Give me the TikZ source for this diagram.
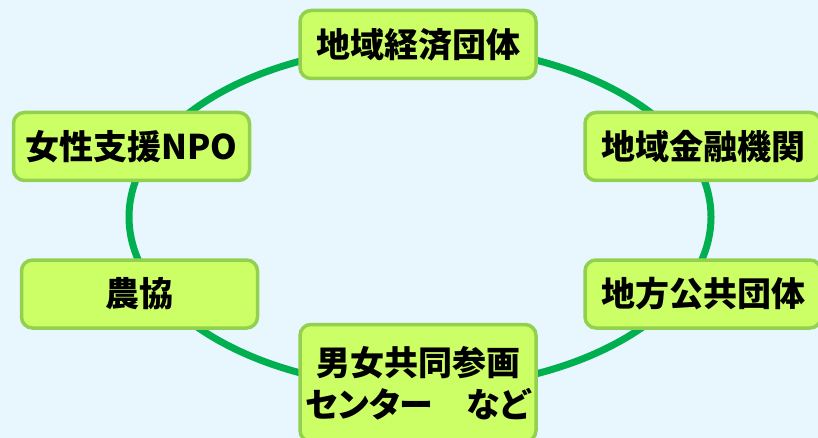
\documentclass[tikz,border=0pt]{standalone}
\usepackage{fontspec}
\newfontfamily\jp{Noto Sans CJK JP}
\newfontfamily\jpp[RawFeature=+palt]{Noto Sans CJK JP}
\definecolor{bgblue}{HTML}{E8F7FD}
\definecolor{ringgreen}{HTML}{00B050}
\definecolor{boxfill}{HTML}{CCFF66}
\definecolor{boxline}{HTML}{92D050}

\begin{document}
\begin{tikzpicture}[x=1pt,y=-1pt,
  org/.style={rectangle,rounded corners=11pt,draw=boxline,line width=3.5pt,fill=boxfill,
    minimum width=236pt,minimum height=68pt,inner sep=0pt,align=center,
    font=\jp\bfseries\fontsize{34}{42}\selectfont},
  ring/.style={draw=ringgreen,line width=7pt}]
\fill[bgblue] (0,0) rectangle (818,438);
\useasboundingbox (0,0) rectangle (818,438);
\coordinate (c) at (420,217);
\draw[ring] (c) ellipse [x radius=291, y radius=171];
\node[org] at (418,44.5) (keizai) {地域経済団体};
\node[org] at (703,146.5) (kinyu) {地域金融機関};
\node[org] at (703,294) (chiho) {地方公共団体};
\node[org,minimum height=117pt] at (418,383) (center) {男女共同参画\\{\jpp\bfseries センター　など}};
\node[org] at (139.5,294) (nokyo) {農協};
\node[org] at (131.5,146.5) (npo) {女性支援NPO};
\end{tikzpicture}
\end{document}
